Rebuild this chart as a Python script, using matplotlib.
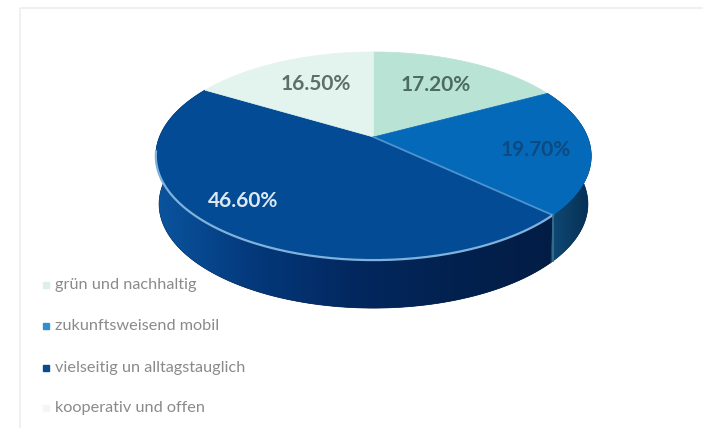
import numpy as np
import matplotlib
matplotlib.use("Agg")
import matplotlib.pyplot as plt
from matplotlib.colors import LinearSegmentedColormap
from matplotlib.patches import Polygon

plt.rcParams["font.family"] = ["Lato", "DejaVu Sans"]

# Shares in clockwise order, starting at twelve o'clock
slice_names = ["grün und nachhaltig", "zukunftsweisend mobil",
               "vielseitig un alltagstauglich", "kooperativ und offen"]
slice_values = [17.20, 19.70, 46.60, 16.50]
slice_colors = ["#b9e3d5", "#0569b9", "#034b94", "#e3f3ed"]
label_colors = ["#4d6b63", "#0d4a80", "#dce8f4", "#5c6f6a"]
legend_colors = ["#dcefe8", "#2f8fd0", "#0b4a90", "#f2f7f5"]

# Perspective of the tilted disc
CX, CY = 373.5, 137.0
RX, RY, TILT = 214.0, 75.5, 0.183
DEPTH = 48.0


def rim(theta):
    """Project clockwise angles (radians from twelve o'clock) to the disc edge"""
    u, v = np.sin(theta), -np.cos(theta)
    w = 1 - TILT * v
    return CX + RX * u / w, (RY * v + CY) / w


def wall_polygon(t0, t1):
    """Outline of the side wall between two angles"""
    t = np.linspace(t0, t1, 120)
    x, y = rim(t)
    # the lower edge sits a little inward towards the sides
    x_low = CX + (x - CX) * 0.985
    y_low = y + DEPTH
    return np.column_stack([np.r_[x, x_low[::-1]], np.r_[y, y_low[::-1]]])


fig = plt.figure(figsize=(7.03, 4.28), dpi=100)
ax = fig.add_axes([0, 0, 1, 1])

# Faint card outline
ax.plot([20, 20, 703], [428, 8, 8], color="#eeeeee", lw=1.2)

edges = 2 * np.pi * np.cumsum([0] + slice_values) / sum(slice_values)
split_x, split_y = rim(edges[2])

# Side walls with horizontal shading
wall_shades = {
    1: ["#0f4a75", "#0a3a62", "#03294f"],
    2: ["#0a56a0", "#04397c", "#03285f", "#02214f", "#021d45"],
}
for idx, shades in wall_shades.items():
    poly = Polygon(wall_polygon(edges[idx], edges[idx + 1]), closed=True,
                   fc=shades[-1], ec=shades[-1], lw=0.5, zorder=1)
    ax.add_patch(poly)
    x0, x1 = (150, split_x + 2) if idx == 2 else (split_x - 2, 596)
    cmap = LinearSegmentedColormap.from_list(f"wall{idx}", shades)
    img = ax.imshow(np.linspace(0, 1, 256)[None, :], cmap=cmap, aspect="auto",
                    extent=[x0, x1, 320, 140], zorder=1.1)
    img.set_clip_path(poly)

# Top surface of each slice
for i, color in enumerate(slice_colors):
    t = np.linspace(edges[i], edges[i + 1], 120)
    x, y = rim(t)
    ax.add_patch(Polygon(np.column_stack([np.r_[CX, x], np.r_[CY, y]]), closed=True,
                         fc=color, ec=color, lw=0.5, zorder=2))

# Highlights along the front rim and the slice boundary
ax.plot([CX, split_x], [CY, split_y], color="#4d93cf", lw=1.3, zorder=3)
xf, yf = rim(np.linspace(edges[2], np.deg2rad(262), 150))
ax.plot(xf, yf, color="#7fb2dc", lw=1.6, zorder=3)
ax.plot([split_x, split_x], [split_y, split_y + DEPTH - 2], color="#3f6f92", lw=1.2, zorder=3)

# Percentage labels
label_xy = [(436, 85), (536, 150), (243, 201), (316, 84)]
for value, color, (lx, ly) in zip(slice_values, label_colors, label_xy):
    ax.text(lx, ly, f"{value:.2f}%", color=color, fontsize=15, fontweight="bold",
            ha="center", va="center", zorder=4)

# Legend column
legend_y = [285, 326, 368, 408]
for name, color, y in zip(slice_names, legend_colors, legend_y):
    ax.plot(46, y, marker="s", ms=4.5, color=color, zorder=4)
    ax.text(55, y, name, color="#8a8a8a", fontsize=11.7, va="center", zorder=4)

ax.set_xlim(0, 703)
ax.set_ylim(428, 0)
ax.axis("off")

fig.savefig("out.png", dpi=100)
